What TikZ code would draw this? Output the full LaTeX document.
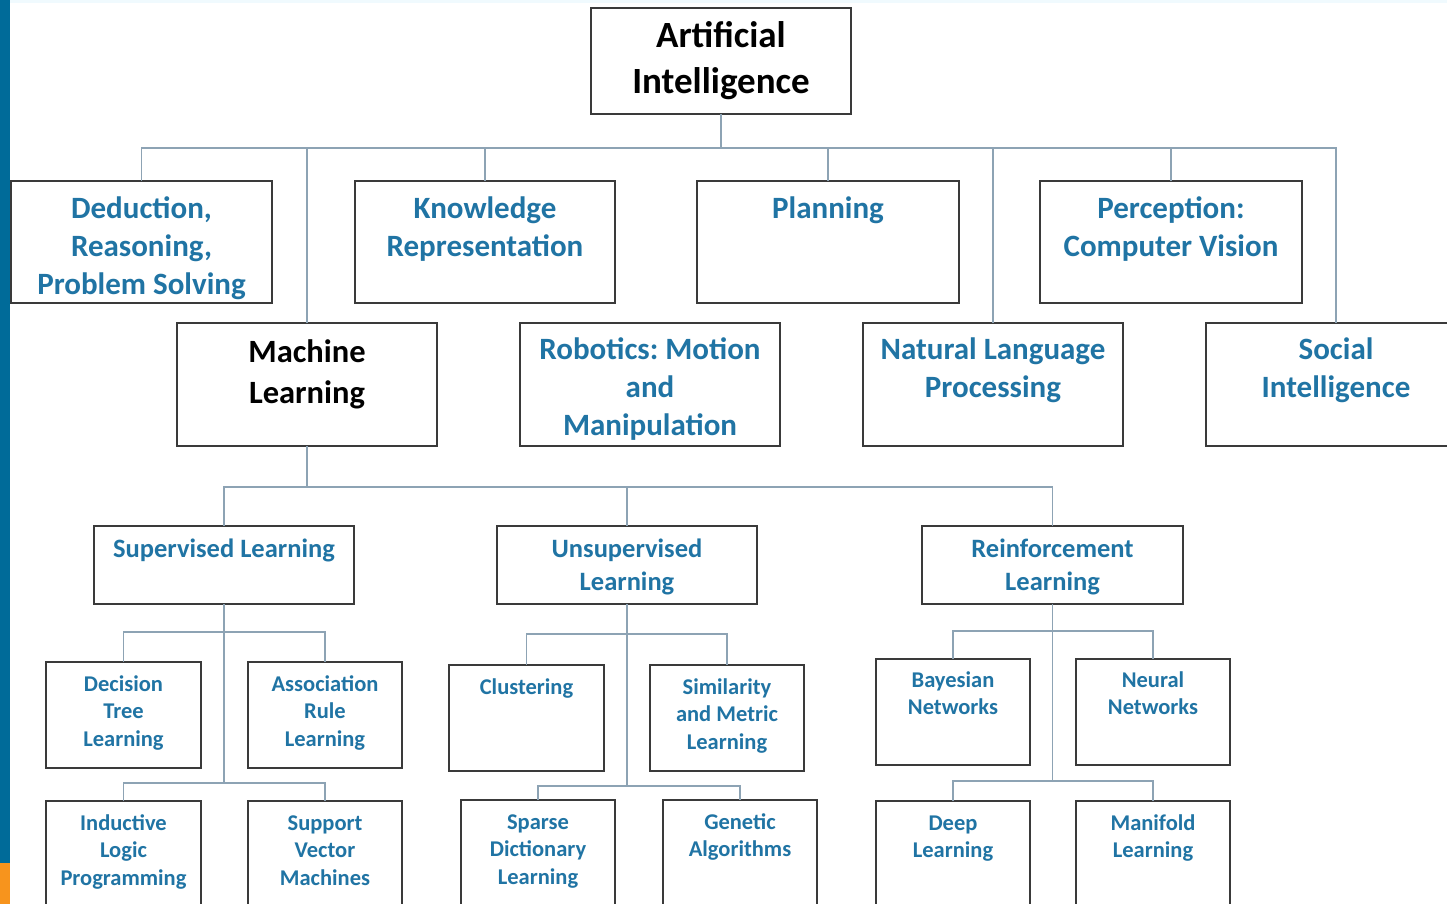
\documentclass[tikz,border=0pt]{standalone}
\usepackage{fontspec}
\setmainfont{Carlito}
\frenchspacing
\definecolor{barBlue}{HTML}{006B99}
\definecolor{barOrange}{HTML}{F7941D}
\definecolor{boxLine}{HTML}{3A3A3A}
\definecolor{linkColor}{HTML}{8DA3B4}
\definecolor{textBlue}{HTML}{2074A4}
\colorlet{topTint}{cyan!6}

\tikzset{
  box/.style={draw=boxLine, line width=2pt, fill=white, inner sep=0pt, outer sep=0pt, anchor=north west},
  link/.style={draw=linkColor, line width=1.8pt},
  capBig/.style={anchor=base, align=center, inner sep=0pt, text=textBlue, font=\bfseries\fontsize{31}{38}\selectfont},
  capMid/.style={anchor=base, align=center, inner sep=0pt, text=textBlue, font=\bfseries\fontsize{26.5}{33}\selectfont},
  capSmall/.style={anchor=base, align=center, inner sep=0pt, text=textBlue, font=\bfseries\fontsize{22.5}{27.5}\selectfont}
}

\begin{document}
\begin{tikzpicture}[x=1pt,y=-1pt]
\useasboundingbox (0,0) rectangle (1447,904);
\clip (0,0) rectangle (1447,904);
\fill[white] (0,0) rectangle (1447,904);
\fill[topTint] (10,0) rectangle (1447,3);
\fill[barBlue] (0,0) rectangle (10,863);
\fill[barOrange] (0,863) rectangle (10,904);

% top level
\node[box, minimum width=260, minimum height=106, align=center,
  font=\bfseries\fontsize{37}{46}\selectfont] (ai) at (591,8) {Artificial\\Intelligence};

\node[box, minimum width=261, minimum height=122,
  label={[capBig,yshift=-113pt]north:{Deduction,\\Reasoning,\\Problem Solving}}] (ded) at (11,181) {};
\node[box, minimum width=260, minimum height=122,
  label={[capBig,yshift=-75pt]north:{Knowledge\\Representation}}] (know) at (355,181) {};
\node[box, minimum width=262, minimum height=122,
  label={[capBig,yshift=-37pt]north:{Planning}}] (plan) at (697,181) {};
\node[box, minimum width=262, minimum height=122,
  label={[capBig,yshift=-75pt]north:{Perception:\\Computer Vision}}] (perc) at (1040,181) {};

\node[box, minimum width=260, minimum height=123,
  label={[capBig,text=black,font=\bfseries\fontsize{32.5}{41}\selectfont,yshift=-80pt]north:{Machine\\Learning}}] (ml) at (177,323) {};
\node[box, minimum width=260, minimum height=123,
  label={[capBig,yshift=-112pt]north:{Robotics: Motion\\and\\Manipulation}}] (robo) at (520,323) {};
\node[box, minimum width=260, minimum height=123,
  label={[capBig,yshift=-74pt]north:{Natural Language\\Processing}}] (nlp) at (863,323) {};
\node[box, minimum width=260, minimum height=123,
  label={[capBig,yshift=-74pt]north:{Social\\Intelligence}}] (soc) at (1206,323) {};

% learning types
\node[box, minimum width=260, minimum height=78,
  label={[capMid,yshift=-31pt]north:{Supervised Learning}}] (sup) at (94,526) {};
\node[box, minimum width=260, minimum height=78,
  label={[capMid,yshift=-64pt]north:{Unsupervised\\Learning}}] (uns) at (497,526) {};
\node[box, minimum width=261, minimum height=78,
  label={[capMid,yshift=-64pt]north:{Reinforcement\\Learning}}] (rl) at (922,526) {};

% methods
\node[box, minimum width=155, minimum height=106,
  label={[capSmall,yshift=-84pt]north:{Decision\\Tree\\Learning}}] (dt) at (46,662) {};
\node[box, minimum width=154, minimum height=106,
  label={[capSmall,yshift=-84pt]north:{Association\\Rule\\Learning}}] (arl) at (248,662) {};
\node[box, minimum width=155, minimum height=106,
  label={[capSmall,yshift=-29pt]north:{Clustering}}] (clus) at (449,665) {};
\node[box, minimum width=154, minimum height=106,
  label={[capSmall,yshift=-84pt]north:{Similarity\\and Metric\\Learning}}] (sim) at (650,665) {};
\node[box, minimum width=154, minimum height=106,
  label={[capSmall,yshift=-55.5pt]north:{Bayesian\\Networks}}] (bay) at (876,659) {};
\node[box, minimum width=154, minimum height=106,
  label={[capSmall,yshift=-55.5pt]north:{Neural\\Networks}}] (nn) at (1076,659) {};

\node[box, minimum width=155, minimum height=130,
  label={[capSmall,yshift=-84pt]north:{Inductive\\Logic\\Programming}}] (ilp) at (46,801) {};
\node[box, minimum width=154, minimum height=130,
  label={[capSmall,yshift=-84pt]north:{Support\\Vector\\Machines}}] (svm) at (248,801) {};
\node[box, minimum width=154, minimum height=130,
  label={[capSmall,yshift=-84pt]north:{Sparse\\Dictionary\\Learning}}] (sdl) at (461,800) {};
\node[box, minimum width=154, minimum height=130,
  label={[capSmall,yshift=-56.5pt]north:{Genetic\\Algorithms}}] (ga) at (663,800) {};
\node[box, minimum width=154, minimum height=130,
  label={[capSmall,yshift=-56.5pt]north:{Deep\\Learning}}] (dl) at (876,801) {};
\node[box, minimum width=154, minimum height=130,
  label={[capSmall,yshift=-56.5pt]north:{Manifold\\Learning}}] (mfl) at (1076,801) {};

% connectors
\coordinate (aiBus) at (721,148);
\coordinate (mlBus) at (307,487);
\coordinate (supHigh) at (224,632);
\coordinate (supLow) at (224,783);
\coordinate (unsHigh) at (627,634);
\coordinate (unsLow) at (627,786);
\coordinate (rlHigh) at (1052.5,631);
\coordinate (rlLow) at (1052.5,781);

\draw[link] (ai.south) -- (aiBus);
\draw[link] (ded.north) |- (aiBus) -| (soc.north);
\draw[link] (ml.north) -- (ml.north |- aiBus);
\draw[link] (know.north) -- (know.north |- aiBus);
\draw[link] (plan.north) -- (plan.north |- aiBus);
\draw[link] (nlp.north) -- (nlp.north |- aiBus);
\draw[link] (perc.north) -- (perc.north |- aiBus);

\draw[link] (ml.south) -- (mlBus);
\draw[link] (sup.north) |- (mlBus) -| (rl.north);
\draw[link] (uns.north) -- (uns.north |- mlBus);

\draw[link] (sup.south) -- (supLow);
\draw[link] (dt.north) |- (supHigh) -| (arl.north);
\draw[link] (ilp.north) |- (supLow) -| (svm.north);

\draw[link] (uns.south) -- (unsLow);
\draw[link] (clus.north) |- (unsHigh) -| (sim.north);
\draw[link] (sdl.north) |- (unsLow) -| (ga.north);

\draw[link] (rl.south) -- (rlLow);
\draw[link] (bay.north) |- (rlHigh) -| (nn.north);
\draw[link] (dl.north) |- (rlLow) -| (mfl.north);
\end{tikzpicture}
\end{document}
